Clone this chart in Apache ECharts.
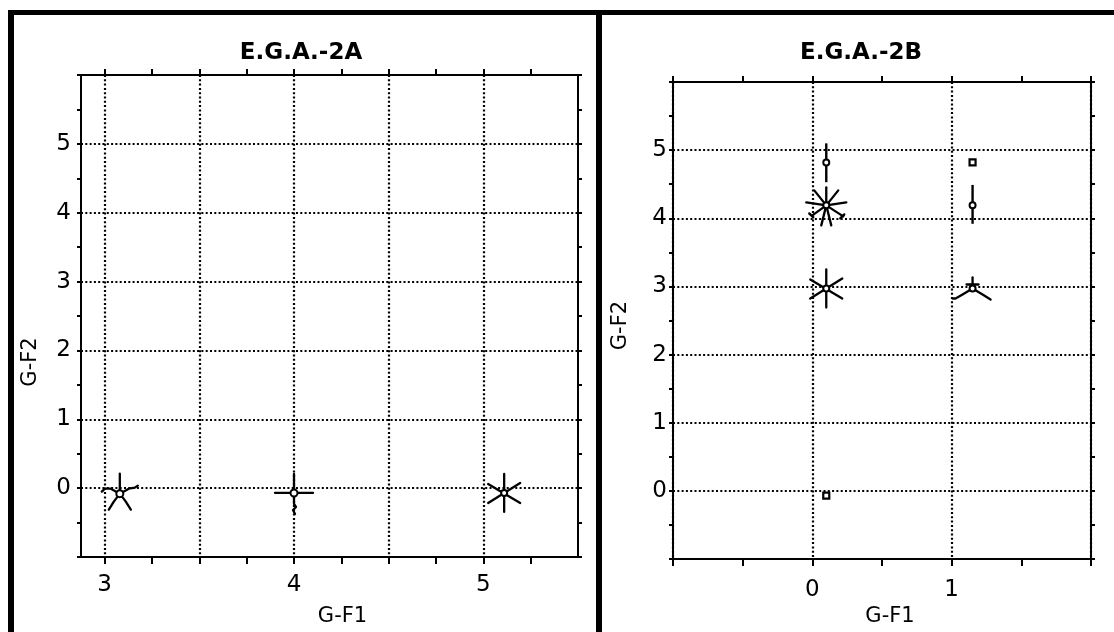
<!DOCTYPE html>
<html>
<head>
<meta charset="utf-8">
<script src="https://cdn.jsdelivr.net/npm/echarts@6/dist/echarts.min.js"></script>
<style>
  html, body { margin: 0; padding: 0; background: #fff; }
  #chart { width: 1114px; height: 632px; }
</style>
</head>
<body>
<div id="chart"></div>
<script>
// Panel A (E.G.A.-2A): group positions on the G-F1 / G-F2 plane
const A_F1 = [3.08, 4.0, 5.11];
const A_F2 = [-0.08, -0.07, -0.07];
const A_GLYPH = ['star', 'cross', 'asterisk'];

// Panel B (E.G.A.-2B)
const B_F1 = [0.1, 0.1, 0.1, 0.1, 1.15, 1.15, 1.15];
const B_F2 = [4.82, 4.19, 2.97, -0.07, 4.82, 4.19, 2.97];
const B_GLYPH = ['bar', 'burst', 'asterisk', 'square', 'square', 'bar', 'tripod'];
const B_LOW = [4.53, null, null, null, null, 3.92, null];
const B_HIGH = [5.1, null, null, null, null, 4.49, null];

// Axis ticks, labels and grid lines
const A_X_TICKS = [3, 3.25, 3.5, 3.75, 4, 4.25, 4.5, 4.75, 5, 5.25];
const A_X_LABELS = [3, 4, 5];
const A_X_GRID = [3, 3.5, 4, 4.5, 5];
const B_X_LABELS = [0, 1];
const Y_LABELS = [0, 1, 2, 3, 4, 5];

const FONT = 'DejaVu Sans';
const INK = '#000';

function glyphRenderer(glyphs, lows, highs) {
  return function (params, api) {
    const x = api.value(0), y = api.value(1);
    const p = api.coord([x, y]);
    const kind = glyphs[params.dataIndex];
    const kids = [];
    const line = (pts) => kids.push({
      type: 'polyline',
      shape: { points: pts.map(d => [p[0] + d[0], p[1] + d[1]]) },
      style: { stroke: INK, lineWidth: 2.3, fill: null, lineCap: 'round', lineJoin: 'round' }
    });
    const hub = (r) => kids.push({
      type: 'circle', shape: { cx: p[0], cy: p[1], r: r },
      style: { fill: '#fff', stroke: INK, lineWidth: 2 }
    });
    if (kind === 'star') {
      line([[0, 0], [0, -20]]);
      line([[0, 0], [-9, -5], [-15, -5], [-18, -2]]);
      line([[0, 0], [9, -5], [15, -6], [18, -8]]);
      line([[0, 0], [-6, 8], [-11, 16]]);
      line([[0, 0], [6, 8], [11, 16]]);
      hub(3.5);
    } else if (kind === 'cross') {
      line([[-19, 0], [19, 0]]);
      line([[0, -19], [0, 11], [2, 14], [-1, 17], [1, 21]]);
      hub(3.5);
    } else if (kind === 'asterisk') {
      line([[0, -19], [0, 19]]);
      line([[-16, -9], [16, 10]]);
      line([[16, -10], [-16, 10]]);
      hub(3);
    } else if (kind === 'burst') {
      const arms = [[0, -18], [12, -15], [20, -3], [17, 11], [5, 20], [-5, 20], [-14, 10], [-20, -3], [-12, -15]];
      arms.forEach(a => line([[0, 0], a]));
      line([[14, 13], [18, 9]]);
      line([[-17, 8], [-13, 12]]);
      hub(3);
    } else if (kind === 'tripod') {
      line([[0, 0], [0, -11]]);
      line([[-6, -4], [6, -4]]);
      line([[0, 0], [-10, 6], [-17, 10], [-20, 10]]);
      line([[0, 0], [10, 6], [18, 11]]);
      hub(3);
    } else if (kind === 'bar') {
      const top = api.coord([x, highs[params.dataIndex]]);
      const bot = api.coord([x, lows[params.dataIndex]]);
      kids.push({
        type: 'line', shape: { x1: top[0], y1: top[1], x2: bot[0], y2: bot[1] },
        style: { stroke: INK, lineWidth: 2.4 }
      });
      hub(3);
    } else if (kind === 'square') {
      kids.push({
        type: 'rect', shape: { x: p[0] - 3, y: p[1] - 3, width: 6, height: 6 },
        style: { fill: '#fff', stroke: INK, lineWidth: 2.2 }
      });
    }
    return { type: 'group', children: kids };
  };
}

const axisLine = { show: true, onZero: false, lineStyle: { color: INK, width: 2 } };
const dotted = { show: true, lineStyle: { color: INK, width: 2.2, type: [2, 2.3] } };
const tickLabel = { color: INK, fontFamily: FONT, fontSize: 23 };
const nameStyle = { color: INK, fontFamily: FONT, fontSize: 21 };

const option = {
  animation: false,
  backgroundColor: '#fff',
  grid: [
    { left: 81, top: 75, width: 497, height: 483 },
    { left: 673, top: 82, width: 418, height: 481 }
  ],
  xAxis: [
    // panel A: bottom axis with labels
    { gridIndex: 0, type: 'value', min: 2.875, max: 5.5, position: 'bottom',
      axisLine: axisLine,
      axisTick: { show: true, customValues: A_X_TICKS, length: 7, lineStyle: { color: INK, width: 2 } },
      axisLabel: { customValues: A_X_LABELS, margin: 17, ...tickLabel },
      splitLine: { show: false },
      name: 'G-F1', nameLocation: 'middle', nameGap: 49,
      nameTextStyle: { ...nameStyle, padding: [0, 0, 0, 26] } },
    // panel A: top frame axis
    { gridIndex: 0, type: 'value', min: 2.875, max: 5.5, position: 'top',
      axisLine: axisLine,
      axisTick: { show: true, customValues: A_X_TICKS, length: 6, lineStyle: { color: INK, width: 2 } },
      axisLabel: { show: false }, splitLine: { show: false } },
    // panel A: dotted grid
    { gridIndex: 0, type: 'value', min: 2.875, max: 5.5, position: 'bottom',
      axisLine: { show: false, onZero: false },
      axisTick: { show: false, customValues: A_X_GRID },
      axisLabel: { show: false }, splitLine: dotted },
    // panel B: bottom axis with labels
    { gridIndex: 1, type: 'value', min: -1, max: 2, interval: 0.5, position: 'bottom',
      axisLine: axisLine,
      axisTick: { show: true, length: 7, lineStyle: { color: INK, width: 2 } },
      axisLabel: { customValues: B_X_LABELS, margin: 19, ...tickLabel },
      splitLine: { show: false },
      name: 'G-F1', nameLocation: 'middle', nameGap: 40,
      nameTextStyle: { ...nameStyle, padding: [0, 0, 0, 16] } },
    // panel B: top frame axis
    { gridIndex: 1, type: 'value', min: -1, max: 2, interval: 0.5, position: 'top',
      axisLine: axisLine,
      axisTick: { show: true, length: 6, lineStyle: { color: INK, width: 2 } },
      axisLabel: { show: false }, splitLine: { show: false } },
    // panel B: dotted grid
    { gridIndex: 1, type: 'value', min: -1, max: 2, interval: 1, position: 'bottom',
      axisLine: { show: false, onZero: false }, axisTick: { show: false },
      axisLabel: { show: false }, splitLine: dotted }
  ],
  yAxis: [
    { gridIndex: 0, type: 'value', min: -1, max: 6, interval: 0.5, position: 'left',
      axisLine: axisLine,
      axisTick: { show: true, length: 4, lineStyle: { color: INK, width: 2 } },
      axisLabel: { customValues: Y_LABELS, margin: 10, ...tickLabel },
      splitLine: { show: false },
      name: 'G-F2', nameLocation: 'middle', nameGap: 40, nameRotate: 90,
      nameTextStyle: { ...nameStyle, padding: [0, 92, 0, 0] } },
    { gridIndex: 0, type: 'value', min: -1, max: 6, interval: 0.5, position: 'right',
      axisLine: axisLine,
      axisTick: { show: true, length: 4, lineStyle: { color: INK, width: 2 } },
      axisLabel: { show: false }, splitLine: { show: false } },
    { gridIndex: 0, type: 'value', min: -1, max: 6, interval: 1, position: 'left',
      axisLine: { show: false, onZero: false }, axisTick: { show: false },
      axisLabel: { show: false }, splitLine: dotted },
    { gridIndex: 1, type: 'value', min: -1, max: 6, interval: 0.5, position: 'left',
      axisLine: axisLine,
      axisTick: { show: true, length: 4, lineStyle: { color: INK, width: 2 } },
      axisLabel: { customValues: Y_LABELS, margin: 6, ...tickLabel },
      splitLine: { show: false },
      name: 'G-F2', nameLocation: 'middle', nameGap: 42, nameRotate: 90,
      nameTextStyle: { ...nameStyle, padding: [0, 10, 0, 0] } },
    { gridIndex: 1, type: 'value', min: -1, max: 6, interval: 0.5, position: 'right',
      axisLine: axisLine,
      axisTick: { show: true, length: 4, lineStyle: { color: INK, width: 2 } },
      axisLabel: { show: false }, splitLine: { show: false } },
    { gridIndex: 1, type: 'value', min: -1, max: 6, interval: 1, position: 'left',
      axisLine: { show: false, onZero: false }, axisTick: { show: false },
      axisLabel: { show: false }, splitLine: dotted }
  ],
  graphic: [
    // panel frames
    { type: 'rect', shape: { x: 8, y: 10, width: 1106, height: 5 }, style: { fill: INK } },
    { type: 'rect', shape: { x: 8, y: 10, width: 6, height: 622 }, style: { fill: INK } },
    { type: 'rect', shape: { x: 596, y: 10, width: 6, height: 622 }, style: { fill: INK } },
    // panel titles
    { type: 'text', x: 301, y: 53,
      style: { text: 'E.G.A.-2A', font: 'bold 23px "DejaVu Sans"', fill: INK, align: 'center', verticalAlign: 'middle' } },
    { type: 'text', x: 861, y: 53,
      style: { text: 'E.G.A.-2B', font: 'bold 23px "DejaVu Sans"', fill: INK, align: 'center', verticalAlign: 'middle' } }
  ],
  series: [
    { type: 'custom', name: 'E.G.A.-2A', xAxisIndex: 0, yAxisIndex: 0,
      data: A_F1.map((v, i) => [v, A_F2[i]]),
      renderItem: glyphRenderer(A_GLYPH, [], []), z: 5 },
    { type: 'custom', name: 'E.G.A.-2B', xAxisIndex: 3, yAxisIndex: 3,
      data: B_F1.map((v, i) => [v, B_F2[i]]),
      renderItem: glyphRenderer(B_GLYPH, B_LOW, B_HIGH), z: 5 }
  ]
};

const chart = echarts.init(document.getElementById('chart'), null, { renderer: 'canvas' });
chart.setOption(option);
</script>
</body>
</html>
